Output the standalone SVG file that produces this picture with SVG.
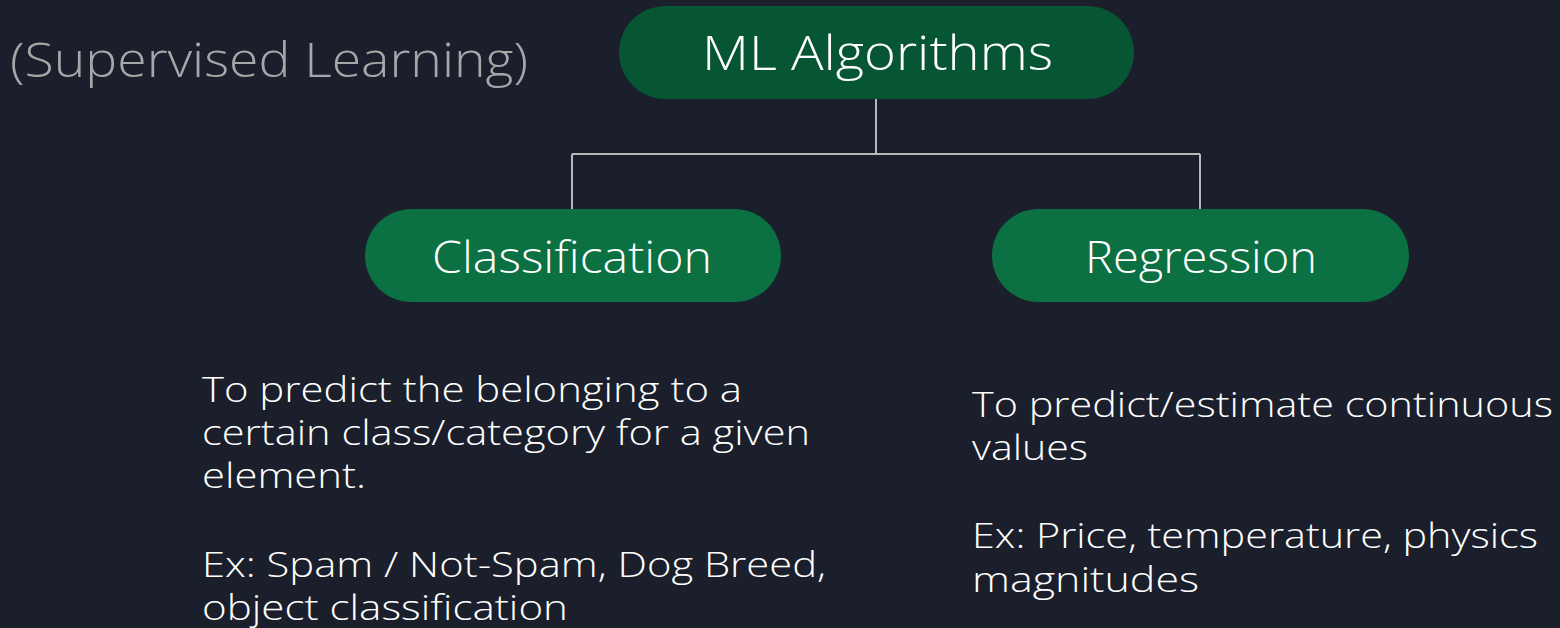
<svg xmlns="http://www.w3.org/2000/svg" width="1560" height="628" viewBox="0 0 1560 628">
  <style>
    .bg { fill: #1b1f2b; }
    .root { fill: #075633; }
    .child { fill: #0b7042; }
    .label { font-family: "Open Sans", "Liberation Sans", sans-serif; font-weight: 300; fill: #ffffff; }
    .desc { font-family: "Open Sans", "Liberation Sans", sans-serif; font-weight: 300; fill: #ffffff; font-size: 35px; }
    .note { font-family: "Open Sans", "Liberation Sans", sans-serif; font-weight: 300; fill: #a7a7a9; font-size: 48px; }
    .conn { stroke: #b9b9bb; stroke-width: 2; fill: none; }
  </style>

  <rect class="bg" x="0" y="0" width="1560" height="628"/>

  <text class="note" x="10" y="77" textLength="518" lengthAdjust="spacingAndGlyphs">(Supervised Learning)</text>

  <!-- tree connectors -->
  <g id="connectors">
    <path class="conn" d="M876 99 V154"/>
    <path class="conn" d="M572 154 H1200"/>
    <path class="conn" d="M572 154 V209"/>
    <path class="conn" d="M1200 154 V209"/>
  </g>

  <g id="ml-algorithms">
    <rect class="root" x="619" y="6" width="515" height="93" rx="46.5"/>
    <text class="label" x="702" y="70" font-size="48" textLength="351" lengthAdjust="spacingAndGlyphs">ML Algorithms</text>
  </g>

  <g id="classification">
    <rect class="child" x="365" y="209" width="416" height="93" rx="46.5"/>
    <text class="label" x="432" y="273" font-size="44" textLength="280" lengthAdjust="spacingAndGlyphs">Classification</text>
  </g>

  <g id="regression">
    <rect class="child" x="992" y="209" width="417" height="93" rx="46.5"/>
    <text class="label" x="1085" y="273" font-size="44" textLength="232" lengthAdjust="spacingAndGlyphs">Regression</text>
  </g>

  <g id="classification-desc">
    <text class="desc" x="202" y="402" textLength="540" lengthAdjust="spacingAndGlyphs">To predict the belonging to a</text>
    <text class="desc" x="202" y="445" textLength="608" lengthAdjust="spacingAndGlyphs">certain class/category for a given</text>
    <text class="desc" x="202" y="488" textLength="164" lengthAdjust="spacingAndGlyphs">element.</text>
    <text class="desc" x="202" y="577" textLength="624" lengthAdjust="spacingAndGlyphs">Ex: Spam / Not-Spam, Dog Breed,</text>
    <text class="desc" x="202" y="620" textLength="366" lengthAdjust="spacingAndGlyphs">object classification</text>
  </g>

  <g id="regression-desc">
    <text class="desc" x="972" y="417" textLength="581" lengthAdjust="spacingAndGlyphs">To predict/estimate continuous</text>
    <text class="desc" x="972" y="460" textLength="116" lengthAdjust="spacingAndGlyphs">values</text>
    <text class="desc" x="972" y="548" textLength="566" lengthAdjust="spacingAndGlyphs">Ex: Price, temperature, physics</text>
    <text class="desc" x="972" y="592" textLength="227" lengthAdjust="spacingAndGlyphs">magnitudes</text>
  </g>
</svg>
